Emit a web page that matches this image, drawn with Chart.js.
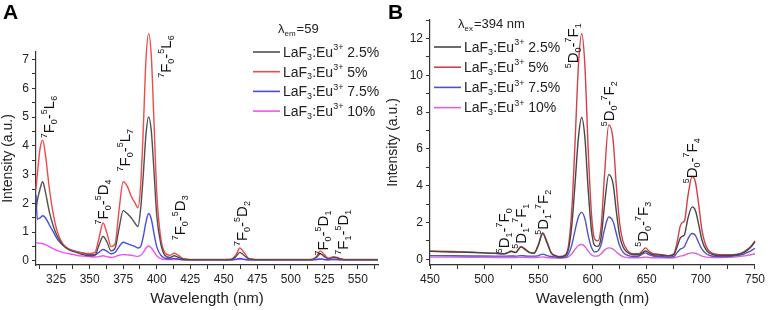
<!DOCTYPE html>
<html lang="en">
<head>
<meta charset="UTF-8">
<title>LaF3:Eu spectra</title>
<style>
  body { margin: 0; background: #fff; }
  #wrap { position: relative; width: 768px; height: 310px; }
  canvas { position: absolute; top: 0; }
</style>
</head>
<body>
<div id="wrap">
  <canvas id="chartA" width="385" height="310" style="left:0"></canvas>
  <canvas id="chartB" width="383" height="310" style="left:385px"></canvas>
</div>
<script src="https://cdn.jsdelivr.net/npm/chart.js@4.4.1/dist/chart.umd.min.js"></script>
<script>
// ---- panel A : excitation spectra ----
var wlA = [310,311,313,315,317,320,323,326,330,335,340,345,350,354,357,360,363,366,369,372,375,378,381,384,386,388,390,392,394,396,398,400,403,406,410,413,416,420,430,445,455,459,462,465,469,480,500,515,519,522,525,528,532,536,540,550,565];
var a25 = [1.8,2.1,2.5,2.75,2.4,1.7,1.2,0.85,0.55,0.38,0.3,0.22,0.18,0.2,0.55,0.85,0.65,0.35,0.45,1.15,1.75,1.65,1.5,1.3,1.2,1.8,3.0,4.4,5.0,4.5,3.1,1.6,0.6,0.2,0.12,0.18,0.13,0.06,0.04,0.04,0.04,0.15,0.3,0.2,0.06,0.04,0.04,0.04,0.12,0.25,0.15,0.08,0.12,0.08,0.04,0.04,0.04];
var a50 = [2.5,3.0,3.9,4.2,3.7,2.5,1.6,1.0,0.6,0.4,0.32,0.28,0.26,0.3,0.8,1.32,0.95,0.5,0.6,1.8,2.75,2.6,2.25,2.0,1.85,2.6,4.6,7.0,7.9,7.1,4.8,2.4,0.8,0.3,0.2,0.27,0.2,0.08,0.05,0.05,0.06,0.2,0.45,0.3,0.08,0.05,0.05,0.05,0.15,0.35,0.22,0.1,0.15,0.1,0.05,0.05,0.05];
var a75 = [2.3,1.45,1.5,1.57,1.5,1.25,1.0,0.75,0.55,0.4,0.33,0.27,0.22,0.22,0.3,0.4,0.33,0.25,0.3,0.5,0.65,0.6,0.55,0.5,0.45,0.5,0.85,1.35,1.65,1.45,0.95,0.5,0.2,0.1,0.07,0.09,0.07,0.04,0.04,0.04,0.04,0.06,0.09,0.06,0.04,0.04,0.04,0.04,0.05,0.07,0.05,0.04,0.05,0.04,0.04,0.04,0.04];
var a100 = [0.65,0.62,0.62,0.6,0.57,0.5,0.42,0.36,0.3,0.25,0.2,0.17,0.15,0.14,0.15,0.18,0.15,0.12,0.15,0.2,0.22,0.21,0.2,0.17,0.16,0.2,0.3,0.45,0.52,0.45,0.32,0.18,0.08,0.05,0.05,0.05,0.05,0.04,0.04,0.04,0.04,0.05,0.06,0.05,0.04,0.04,0.04,0.04,0.05,0.06,0.05,0.04,0.05,0.04,0.04,0.04,0.04];

// ---- panel B : emission spectra ----
var wlB = [450,470,490,510,518,521,525,529,534,538,542,546,550,554,558,562,566,570,575,578,581,584,587,590,593,596,599,602,605,608,611,615,619,622,625,628,632,638,643,646,649,652,656,662,670,675,678,681,683,685,688,692,695,698,701,705,710,720,730,738,742,746,750];
var b25 = [0.43,0.4,0.37,0.32,0.3,0.33,0.42,0.36,0.66,0.52,0.36,0.33,0.75,1.4,0.9,0.33,0.18,0.13,0.2,0.6,1.9,4.2,6.6,7.7,6.6,3.8,1.6,0.75,0.7,1.2,2.9,4.6,4.1,2.6,1.3,0.7,0.38,0.25,0.25,0.35,0.45,0.35,0.25,0.23,0.18,0.25,0.65,1.15,1.25,1.35,2.2,2.85,2.65,1.9,1.05,0.5,0.28,0.2,0.22,0.32,0.45,0.65,0.95];
var b50 = [0.45,0.42,0.38,0.33,0.3,0.35,0.45,0.38,0.7,0.55,0.38,0.35,0.8,1.45,0.95,0.35,0.2,0.15,0.25,0.8,2.8,6.5,10.5,12.25,10.5,6.0,2.5,1.1,1.0,1.8,4.5,7.3,6.5,4.0,2.0,1.0,0.5,0.3,0.3,0.45,0.62,0.45,0.3,0.27,0.2,0.3,0.9,1.8,2.0,2.1,3.4,4.5,4.2,3.0,1.6,0.7,0.35,0.25,0.25,0.35,0.5,0.7,1.0];
var b75 = [0.2,0.19,0.18,0.17,0.17,0.17,0.18,0.17,0.2,0.18,0.17,0.17,0.2,0.28,0.2,0.15,0.12,0.1,0.12,0.3,0.8,1.6,2.3,2.55,2.2,1.3,0.65,0.4,0.45,0.8,1.6,2.3,2.05,1.4,0.75,0.4,0.22,0.15,0.18,0.28,0.35,0.25,0.18,0.15,0.12,0.15,0.35,0.55,0.6,0.7,1.1,1.4,1.3,0.9,0.55,0.3,0.18,0.15,0.18,0.25,0.35,0.45,0.6];
var b100 = [0.12,0.12,0.11,0.1,0.1,0.1,0.1,0.1,0.11,0.1,0.1,0.1,0.11,0.13,0.1,0.08,0.07,0.06,0.08,0.15,0.3,0.55,0.75,0.8,0.7,0.45,0.25,0.17,0.18,0.3,0.5,0.62,0.55,0.4,0.25,0.15,0.1,0.08,0.08,0.1,0.12,0.1,0.08,0.08,0.07,0.08,0.12,0.17,0.2,0.22,0.3,0.35,0.33,0.25,0.17,0.12,0.1,0.1,0.12,0.17,0.2,0.25,0.3];

// ^x = superscript char, _x = subscript char
var names = ['LaF_3:Eu^3^+ 2.5%', 'LaF_3:Eu^3^+ 5%', 'LaF_3:Eu^3^+ 7.5%', 'LaF_3:Eu^3^+ 10%'];

// transition labels [text, wavelength, intensity]
var notesA = [
  ['^7F_0-^5L_6', 320.5, 5.0],
  ['^7F_0-^5D_4', 360.5, 2.05],
  ['^7F_0-^5L_7', 377, 3.85],
  ['^7F_0-^5L_6', 407.5, 7.1],
  ['^7F_0-^5D_3', 418, 1.5],
  ['^7F_0-^5D_2', 464.5, 1.3],
  ['^7F_0-^5D_1', 525, 0.97],
  ['^7F_1-^5D_1', 539.5, 1.0]
];
var notesB = [
  ['^5D_1-^7F_0', 519, 1.55],
  ['^5D_1-^7F_1', 534.5, 1.8],
  ['^5D_1-^7F_2', 555.5, 2.55],
  ['^5D_0-^7F_1', 583, 11.6],
  ['^5D_0-^7F_2', 616, 8.45],
  ['^5D_0-^7F_3', 647.5, 1.9],
  ['^5D_0-^7F_4', 692.5, 5.35]
];

var FONT = '"Liberation Sans", "DejaVu Sans", Arial, sans-serif';

function toXY(xs, ys) {
  return xs.map(function (x, i) { return { x: x, y: ys[i] }; });
}

function lineSet(label, xs, ys, color) {
  return {
    label: label, data: toXY(xs, ys), borderColor: color, borderWidth: 1.4,
    pointRadius: 0, tension: 0.4, cubicInterpolationMode: 'monotone', fill: false,
    clip: false
  };
}

function tickList(from, to, step) {
  var out = [];
  for (var v = from; v <= to + 1e-9; v += step) out.push({ value: +v.toFixed(3) });
  return out;
}

// split "^7F_0" style markup into runs
function parts(str) {
  var out = [];
  for (var i = 0; i < str.length; i++) {
    var ch = str[i];
    if ((ch === '^' || ch === '_') && i + 1 < str.length) {
      out.push({ t: str[i + 1], k: ch === '^' ? 'sup' : 'sub' });
      i++;
    } else {
      out.push({ t: ch, k: '' });
    }
  }
  return out;
}

// draws rich text starting at x (left), baseline-middle at y; returns width
function richText(c, str, x, y, size, measureOnly) {
  var small = Math.round(size * 0.62);
  var w = 0;
  parts(str).forEach(function (p) {
    c.font = (p.k ? small : size) + 'px ' + FONT;
    var dy = p.k === 'sup' ? -size * 0.38 : (p.k === 'sub' ? size * 0.3 : 0);
    if (!measureOnly) c.fillText(p.t, x + w, y + dy);
    w += c.measureText(p.t).width;
  });
  return w;
}

// letter, legend box and rotated transition labels
var deco = {
  id: 'deco',
  afterDraw: function (chart) {
    var o = chart.options.plugins.deco, c = chart.ctx;
    var xs = chart.scales.x, ys = chart.scales.y;
    c.save();
    c.fillStyle = '#000';
    c.font = 'bold 21px ' + FONT;
    c.textBaseline = 'alphabetic';
    c.textAlign = 'left';
    c.fillText(o.letter, 3, 19);

    // legend title
    c.font = '13px ' + FONT;
    c.fillStyle = '#222';
    c.fillText('\u03BB', o.lx + o.tdx, o.ly - 19);
    var w = c.measureText('\u03BB').width;
    c.font = '8px ' + FONT;
    c.fillText(o.sub, o.lx + o.tdx + w, o.ly - 16);
    var w2 = c.measureText(o.sub).width;
    c.font = '13px ' + FONT;
    c.fillText(o.tail, o.lx + o.tdx + w + w2 + 1, o.ly - 19);

    // legend rows
    c.textBaseline = 'middle';
    chart.data.datasets.forEach(function (d, i) {
      var y = o.ly + i * o.gap;
      c.strokeStyle = d.borderColor;
      c.lineWidth = 1.6;
      c.beginPath();
      c.moveTo(o.lx, y);
      c.lineTo(o.lx + 27, y);
      c.stroke();
      c.fillStyle = '#222';
      richText(c, d.label, o.lx + 30, y + 1, 14);
    });

    // transition labels
    o.notes.forEach(function (n) {
      c.save();
      c.translate(xs.getPixelForValue(n[1]), ys.getPixelForValue(n[2]));
      c.rotate(-Math.PI / 2);
      c.fillStyle = '#111';
      var tw = richText(c, n[0], 0, 0, 15, true);
      richText(c, n[0], -tw / 2, 0, 15);
      c.restore();
    });
    c.restore();
  }
};

function makeChart(id, xs, series, colors, cfg) {
  return new Chart(document.getElementById(id), {
    type: 'line',
    data: { datasets: series.map(function (s, i) { return lineSet(names[i], xs, s, colors[i]); }) },
    options: {
      responsive: false, animation: false, devicePixelRatio: 1,
      layout: { padding: cfg.pad },
      plugins: { legend: { display: false }, tooltip: { enabled: false }, deco: cfg.deco },
      scales: {
        x: {
          type: 'linear', min: cfg.xmin, max: cfg.xmax,
          afterBuildTicks: function (s) { s.ticks = tickList(cfg.xt0, cfg.xmax, cfg.xstep); },
          afterFit: function (s) { s.height = 45; },
          ticks: {
            autoSkip: false, maxRotation: 0, color: '#222', padding: 3,
            font: { family: FONT, size: 12 },
            callback: function (v) { return v % cfg.xlab === 0 ? v : ''; }
          },
          grid: { drawOnChartArea: false, drawTicks: true, tickLength: 4, color: '#333' },
          border: { color: '#333', width: 1.2 },
          title: { display: true, text: 'Wavelength (nm)', color: '#222', font: { family: FONT, size: 15 }, padding: { top: 0, bottom: 2 } }
        },
        y: {
          min: cfg.ymin, max: cfg.ymax,
          afterBuildTicks: function (s) { s.ticks = tickList(0, cfg.ytop, cfg.ystep); },
          afterFit: function (s) { s.width = cfg.yw; },
          ticks: {
            autoSkip: false, color: '#222', padding: 3,
            font: { family: FONT, size: 12 },
            callback: function (v) { return Math.abs(v % cfg.ylab) < 1e-6 ? v : ''; }
          },
          grid: { drawOnChartArea: false, drawTicks: true, tickLength: 4, color: '#333' },
          border: { color: '#333', width: 1.2 },
          title: { display: true, text: 'Intensity (a.u.)', color: '#222', font: { family: FONT, size: 14 }, padding: { top: 0, bottom: 0 } }
        }
      }
    },
    plugins: [deco]
  });
}

makeChart('chartA', wlA, [a25, a50, a75, a100],
  ['#505050', '#f04a4a', '#4a4ae8', '#f055f0'], {
    pad: { left: 0, right: 7, top: 52, bottom: 0 },
    xmin: 310, xmax: 565, xt0: 312.5, xstep: 12.5, xlab: 25,
    ymin: -0.14, ymax: 7.26, ytop: 7, ystep: 0.5, ylab: 1, yw: 36,
    deco: { letter: 'A', lx: 253, ly: 52, gap: 19.7, tdx: 25, sub: 'em', tail: '=59', notes: notesA }
  });

makeChart('chartB', wlB, [b25, b50, b75, b100],
  ['#474747', '#d3404a', '#5252c4', '#d864d8'], {
    pad: { left: 0, right: 11, top: 20, bottom: 0 },
    xmin: 450, xmax: 750, xt0: 450, xstep: 25, xlab: 50,
    ymin: -0.31, ymax: 13, ytop: 13, ystep: 1, ylab: 2, yw: 45,
    deco: { letter: 'B', lx: 49, ly: 47, gap: 20.2, tdx: 24, sub: 'ex', tail: '=394 nm', notes: notesB }
  });
</script>
</body>
</html>
